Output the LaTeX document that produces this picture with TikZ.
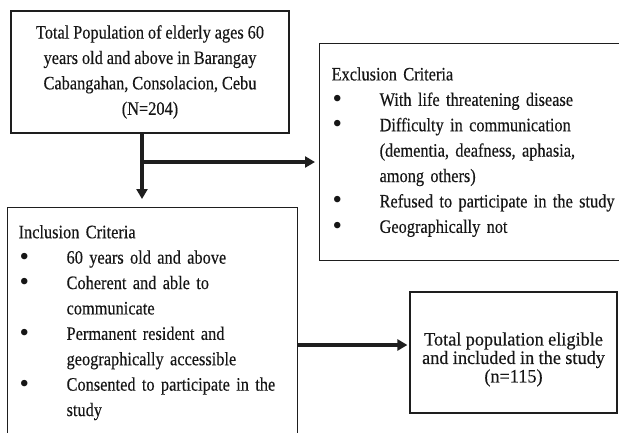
\documentclass[tikz,border=0pt]{standalone}
\usepackage{fontspec}
\setmainfont[FakeStretch=0.86,FakeBold=0.3]{Liberation Serif}
\newfontfamily\widefont[FakeStretch=0.96,FakeBold=0.3]{Liberation Serif}
\newfontfamily\bulfont{Liberation Serif}
\usetikzlibrary{arrows.meta}
\definecolor{inkline}{RGB}{30,30,30}
\definecolor{inktext}{RGB}{22,22,22}
\newcommand{\bul}{\makebox[48pt][l]{\hspace{1pt}\raisebox{-1.5pt}{\bulfont\fontsize{27}{27}\selectfont\textbullet}}}
\newcommand{\nobul}{\makebox[48pt]{}}
\newcommand{\boxfont}{\fontsize{19}{25.4}\selectfont\spaceskip 3.9pt\relax}
\newcommand{\finalfont}{\widefont\fontsize{19}{18.5}\selectfont\spaceskip 4.4pt\relax}

\begin{document}
\begin{tikzpicture}[x=1pt,y=-1pt,
  box/.style={draw=inkline,line width=1.2pt,rectangle,inner sep=0pt,text=inktext,font=\boxfont},
  list/.style={box,align=left,inner xsep=12pt,inner ysep=0pt,anchor=north west},
  bigarrow/.style={draw=inkline,line width=4pt,-{Triangle[length=10pt,width=11pt]}}]
\useasboundingbox (0,0) rectangle (619,432);
\node[box,align=center,minimum width=278pt,minimum height=122pt] (pop) at (150,72)
  {Total Population of elderly ages 60\\years old and above in Barangay\\Cabangahan, Consolacion, Cebu\\(N=204)};
\node[list,text width=330pt,minimum height=217pt] (excl) at (319,43)
  {Exclusion Criteria\\
   \bul With life threatening disease\\
   \bul Difficulty in communication\\
   \nobul (dementia, deafness, aphasia,\\
   \nobul among others)\\
   \bul Refused to participate in the study\\
   \bul Geographically not};
\node[list,inner xsep=11pt,text width=268pt,minimum height=230pt] (incl) at (7,207)
  {Inclusion Criteria\\
   \bul 60 years old and above\\
   \bul Coherent and able to\\
   \nobul communicate\\
   \bul Permanent resident and\\
   \nobul geographically accessible\\
   \bul Consented to participate in the\\
   \nobul study};
\node[box,align=center,minimum width=207pt,minimum height=121pt,font=\finalfont] (final) at (513.5,352.5)
  {\rule{0pt}{27pt}Total population eligible\\and included in the study\\(n=115)};
% connectors
\coordinate (fork) at (142,162);
\coordinate (join) at (297,345);
\draw[bigarrow,shorten >=8pt] (pop.south -| fork) -- (incl.north -| fork);
\draw[bigarrow,shorten >=4pt] (fork) -- (excl.west |- fork);
\draw[bigarrow,shorten >=2pt] (incl.east |- join) -- (final.west |- join);
\end{tikzpicture}
\end{document}
